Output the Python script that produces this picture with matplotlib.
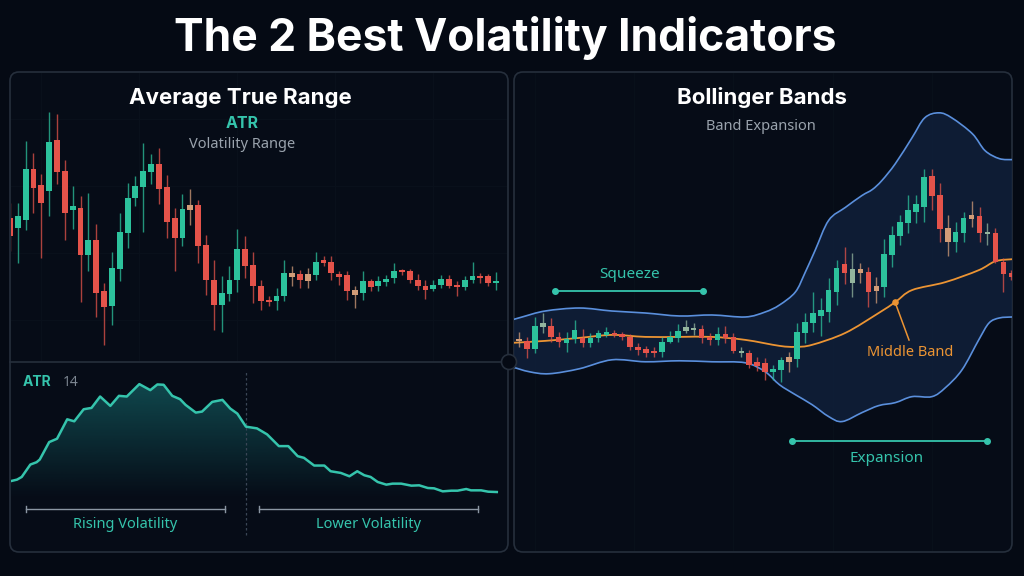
import numpy as np
import matplotlib.pyplot as plt
from matplotlib.patches import FancyBboxPatch, Circle, PathPatch
from matplotlib.path import Path

# ---------------- data ----------------
# left panel: price candles (arbitrary price units)
left_open = [45.5, 42.5, 44.8, 60.2, 55.3, 53.5, 68.8, 59.5, 47.7, 48.5,
             34.5, 38.8, 23.5, 19.0, 30.2, 41.0, 51.5, 54.8, 59.2, 61.5,
             54.8, 45.5, 39.5, 47.7, 49.2, 37.5, 27.0, 19.5, 22.8, 26.8,
             36.2, 31.5, 25.0, 21.0, 20.5, 22.2, 27.8, 28.8, 26.5, 28.5,
             32.8, 32.3, 28.8, 28.5, 22.4, 23.0, 26.5, 25.0, 26.4, 27.5,
             29.8, 29.5, 27.0, 25.2, 24.2, 25.5, 27.2, 25.5, 24.8, 26.8,
             28.2, 28.0, 26.0]
left_close = [40.0, 46.0, 60.2, 54.3, 50.0, 68.3, 59.2, 47.0, 49.0, 34.5,
              39.0, 23.0, 18.8, 30.5, 41.3, 51.5, 55.0, 59.5, 61.5, 54.0,
              44.2, 39.5, 48.2, 49.2, 37.0, 27.0, 19.5, 23.0, 27.0, 36.2,
              31.2, 25.0, 20.5, 20.2, 22.2, 29.0, 29.0, 27.0, 28.8, 32.3,
              32.0, 29.0, 27.8, 23.5, 23.8, 26.5, 24.8, 26.5, 27.3, 29.5,
              29.2, 27.0, 25.2, 24.0, 25.5, 27.2, 25.2, 24.8, 27.0, 28.2,
              27.4, 26.0, 26.2]
left_high = [50.0, 50.0, 68.5, 64.8, 58.5, 77.2, 76.5, 62.8, 55.0, 52.0,
             53.0, 43.8, 26.0, 35.2, 47.0, 56.0, 58.0, 68.0, 64.5, 66.5,
             58.2, 48.5, 52.5, 54.0, 50.8, 40.5, 33.0, 28.0, 31.0, 42.2,
             40.0, 35.2, 27.0, 22.0, 24.5, 33.0, 31.0, 30.0, 30.5, 35.2,
             34.0, 34.0, 29.5, 29.5, 25.0, 29.5, 27.2, 28.0, 28.5, 32.0,
             30.2, 30.2, 28.8, 27.0, 27.0, 28.5, 28.5, 26.5, 28.0, 32.2,
             29.0, 28.8, 29.2]
left_low = [35.5, 32.0, 42.0, 47.0, 33.5, 46.0, 55.5, 39.0, 42.2, 20.2,
            29.5, 16.0, 7.5, 13.5, 26.5, 36.5, 49.0, 41.2, 55.5, 49.5,
            39.5, 29.5, 37.0, 43.5, 32.0, 22.5, 12.0, 11.5, 20.5, 23.2,
            27.5, 20.0, 18.0, 19.0, 18.0, 20.5, 25.0, 24.5, 24.5, 27.0,
            31.0, 27.0, 25.5, 21.0, 18.5, 21.0, 23.5, 23.5, 25.2, 26.0,
            28.5, 26.0, 24.0, 21.2, 23.5, 24.5, 24.5, 22.0, 24.0, 26.0,
            26.0, 25.0, 24.0]
left_kind = "rggrrgrrgrgrrgggggg" + "rrrgtrrrgggrrrrggtrt" + "grrrrtgrgggrrrrggrrggrrg"

# ATR(14) line, x in bars
atr_x = [0, 0.9, 1.5, 2.6, 3.4, 3.8, 5.0, 6.0, 7.3, 8.2, 9.4, 10.4, 11.5,
         12.8, 13.9, 14.9, 16.5, 17.9, 18.8, 19.6, 20.7, 21.7, 22.4, 23.7,
         24.5, 25.8, 27.1, 28.1, 29.0, 30.1, 31.5, 32.8, 34.3, 35.5, 36.7,
         37.5, 38.8, 40.1, 40.9, 42.2, 43.3, 44.3, 45.2, 46.0, 46.9, 48.0,
         48.8, 49.9, 51.2, 52.2, 53.3, 54.1, 55.2, 56.3, 57.1, 58.2, 58.8,
         60.1, 61.0, 62.1]
atr_val = [0.95, 1.00, 1.08, 1.45, 1.52, 1.60, 2.12, 2.22, 2.80, 2.74, 3.10,
           3.14, 3.48, 3.20, 3.50, 3.48, 3.85, 3.67, 3.84, 3.83, 3.50, 3.40,
           3.23, 3.00, 3.03, 3.32, 3.38, 3.12, 2.97, 2.58, 2.53, 2.35, 2.00,
           2.00, 1.70, 1.65, 1.42, 1.42, 1.25, 1.20, 1.10, 1.25, 1.13, 1.08,
           0.93, 0.85, 0.88, 0.88, 0.82, 0.83, 0.75, 0.74, 0.65, 0.67, 0.67,
           0.72, 0.68, 0.68, 0.64, 0.63]
atr_split = 30.1

# right panel: Bollinger candles
bb_open = [59, 59, 51, 73, 74, 63, 57, 61, 62, 57,
           62, 65, 67, 66, 63, 53, 51, 49, 48, 58,
           62, 69, 70, 71, 63, 60, 66, 63, 47, 47,
           38, 37, 28, 30, 38, 41, 67, 77, 84, 88,
           108, 136, 117, 127, 128, 109, 113, 145, 164, 177,
           188, 193, 225, 205, 158, 158, 167, 181, 184, 166,
           167, 138, 127]
bb_close = [61, 51, 74, 77, 63, 58, 61, 70, 57, 62,
            67, 68, 65, 63, 53, 50, 47, 47, 58, 63,
            69, 73, 72, 62, 60, 66, 62, 49, 49, 35,
            34, 28, 31, 40, 43, 68, 78, 87, 90, 110,
            132, 127, 131, 131, 108, 114, 146, 165, 178, 190,
            196, 224, 204, 171, 172, 168, 182, 185, 167, 168,
            138, 126, 123]
bb_high = [68, 63, 83, 87, 82, 68, 68, 80, 71, 67,
           70, 73, 70, 68, 66, 57, 54, 53, 63, 69,
           76, 80, 77, 75, 67, 73, 74, 67, 53, 50,
           43, 42, 35, 43, 48, 77, 87, 108, 102, 122,
           140, 153, 147, 137, 133, 123, 161, 174, 185, 205,
           205, 232, 232, 218, 185, 178, 188, 199, 193, 177,
           172, 142, 130]
bb_low = [53, 42, 47, 67, 58, 53, 48, 57, 53, 53,
          58, 63, 63, 60, 50, 45, 43, 43, 43, 57,
          58, 67, 65, 57, 55, 55, 57, 47, 43, 32,
          29, 20, 20, 18, 28, 33, 57, 68, 64, 78,
          95, 116, 103, 117, 93, 97, 103, 133, 155, 167,
          177, 178, 190, 158, 144, 148, 158, 173, 158, 155,
          137, 108, 120]
bb_kind = "trgmrrggrgggrrrrrrgg" + "gmmrrgrrmrrrggtggggg" + "grmtrtggggggrrtggtrmrrr"

upper_x = [-0.9, 0.4, 3.3, 7.6, 11.7, 15.9, 20.2, 24.3, 28.5, 31.0, 32.8, 34.8,
           36.0, 37.3, 39.0, 41.1, 43.2, 44.5, 45.7, 47.4, 49.5, 51.1, 52.9,
           54.5, 57.1, 58.7, 60.5, 62.1]
upper_y = [80, 83, 89, 92, 89, 87, 84, 85, 83, 88, 95, 108,
           127, 150, 180, 193, 205, 211, 220, 237, 263, 283, 288,
           283, 267, 250, 242, 241]
lower_x = [-0.9, 1.3, 3.8, 7.6, 11.7, 15.9, 20.2, 24.3, 28.5, 31.0, 32.8, 34.8,
           36.9, 39.0, 40.7, 43.2, 45.3, 47.4, 49.5, 52.0, 53.7, 55.8, 57.9,
           59.2, 60.5, 62.1]
lower_y = [33, 28, 26, 31, 40, 38, 39, 38, 37, 28, 15, 5,
           -5, -17, -22, -13, -6, -3, 3, 3, 12, 30, 60,
           77, 82, 83]
middle_x = [-0.9, 3.3, 7.6, 11.7, 15.9, 20.2, 24.3, 28.5, 32.8, 34.8, 36.9,
            41.1, 45.3, 47.4, 49.5, 53.7, 57.9, 60.0, 62.1]
middle_y = [57, 59, 62, 65, 63, 63, 63, 60, 54, 53, 55,
            67, 87, 98, 110, 118, 130, 139, 141]

# ---------------- style ----------------
BG = "#050a14"
EDGE = "#262f3c"
GREEN = "#2cc29c"
RED = "#e4534a"
TAN = "#d29c78"
MUTED = "#93b49d"
TEAL = "#35c4ac"
GREY = "#9aa3ad"
ORANGE = "#ec9433"
BLUE = "#5a8fdc"
kind_color = {"g": GREEN, "r": RED, "t": TAN, "m": MUTED}

fig = plt.figure(figsize=(10.24, 5.76), dpi=100, facecolor=BG)
W, H = 1024, 576


def px_axes(x0, y0, x1, y1, z=2):
    ax = fig.add_axes([x0 / W, 1 - y1 / H, (x1 - x0) / W, (y1 - y0) / H], zorder=z)
    ax.set_facecolor("none")
    for s in ax.spines.values():
        s.set_visible(False)
    ax.set_xticks([])
    ax.set_yticks([])
    return ax


def candles(ax, o, h, l, c, kinds, width, min_body):
    o, h, l, c = map(np.asarray, (o, h, l, c))
    idx = np.arange(len(o))
    cols = [kind_color[k] for k in kinds]
    ax.vlines(idx, l, h, colors=cols, lw=1.0, alpha=0.75, zorder=3)
    body = np.maximum(np.abs(c - o), min_body)
    ax.bar(idx, body, width, bottom=np.minimum(o, c), color=cols, zorder=4, linewidth=0)


def smooth(ax, xs, ys, **kw):
    # rounded (Catmull-Rom style) path through the read points
    p = np.column_stack([xs, ys]).astype(float)
    verts = [p[0]]
    codes = [Path.MOVETO]
    for i in range(len(p) - 1):
        p0 = p[i - 1] if i > 0 else p[i]
        p3 = p[i + 2] if i + 2 < len(p) else p[i + 1]
        verts += [p[i] + (p[i + 1] - p0) / 6, p[i + 1] - (p3 - p[i]) / 6, p[i + 1]]
        codes += [Path.CURVE4] * 3
    ax.add_patch(PathPatch(Path(verts, codes), fill=False, **kw))


# background / panel frames in pixel coordinates
bg = fig.add_axes([0, 0, 1, 1], zorder=0)
bg.set_xlim(0, W)
bg.set_ylim(H, 0)
bg.axis("off")
for x0, x1 in [(10, 508), (514, 1012)]:
    bg.add_patch(FancyBboxPatch((x0, 72), x1 - x0, 480,
                                boxstyle="round,pad=0,rounding_size=9",
                                fc="#060c17", ec=EDGE, lw=1.2))
bg.plot([10, 508], [362, 362], color=EDGE, lw=1.2)

# ---- left: candles ----
axL = px_axes(11, 73, 507, 361)
axL.set_xlim(0.13, 63.4)
axL.set_ylim(2.7, 88.8)
axL.set_axisbelow(True)
axL.grid(True, color="#09101b", lw=0.8)
axL.set_xticks(np.arange(4, 63, 12.5))
axL.set_yticks([15, 35, 55, 75])
axL.tick_params(length=0, labelbottom=False, labelleft=False)
candles(axL, left_open, left_high, left_low, left_close, left_kind, 0.75, 0.6)

# ---- left: ATR ----
axA = px_axes(11, 363, 507, 551)
poly = axA.fill_between(atr_x, atr_val, -1.13, color="none", lw=0)
grad = np.zeros((256, 1, 4))
grad[..., :3] = plt.matplotlib.colors.to_rgb("#1fa3a0")
grad[..., 3] = np.clip(np.linspace(0.40, -0.05, 256), 0, 1)[:, None]
im = axA.imshow(grad, extent=[0, 63, 0.0, 3.9], origin="upper", aspect="auto", zorder=1)
im.set_clip_path(poly.get_paths()[0], transform=axA.transData)
axA.plot(atr_x, atr_val, color=TEAL, lw=1.8, zorder=3, solid_joinstyle="round")
axA.vlines(atr_split, -0.65, 4.2, colors="#3a4656", lw=0.9, linestyles=(0, (2, 2)))
axA.set_xlim(0.13, 63.4)
axA.set_ylim(-1.13, 4.48)

# ---- right: Bollinger ----
axB = px_axes(514, 73, 1012, 551)
axB.set_xlim(-0.63, 62.09)
axB.set_ylim(-152, 328)
axB.set_axisbelow(True)
axB.grid(True, axis="x", color="#08101a", lw=0.8)
axB.set_xticks(np.arange(2, 63, 12.5))
axB.tick_params(length=0, labelbottom=False, labelleft=False)
axB.fill(np.r_[upper_x, lower_x[::-1]], np.r_[upper_y, lower_y[::-1]],
         color="#10203a", alpha=0.85, lw=0, zorder=1)
smooth(axB, upper_x, upper_y, color=BLUE, lw=1.2, zorder=2)
smooth(axB, lower_x, lower_y, color=BLUE, lw=1.2, zorder=2)
smooth(axB, middle_x, middle_y, color=ORANGE, lw=1.3, zorder=2.5)
candles(axB, bb_open, bb_high, bb_low, bb_close, bb_kind, 0.7, 2)

# ---- overlay: titles, labels, annotations (pixel coordinates) ----
ov = px_axes(0, 0, W, H, z=6)
ov.set_xlim(0, W)
ov.set_ylim(H, 0)

ov.text(505, 38, "The 2 Best Volatility Indicators", color="white", fontsize=32,
        fontweight="bold", family="Inter", ha="center", va="center")
ov.text(240, 98, "Average True Range", color="white", fontsize=16,
        fontweight="bold", family="Inter", ha="center", va="center")
ov.text(242, 123, "ATR", color=TEAL, fontsize=11.5, fontweight="bold",
        family="Inter", ha="center", va="center")
ov.text(242, 144, "Volatility Range", color=GREY, fontsize=10.5,
        family="Noto Sans", ha="center", va="center")
ov.text(762, 98, "Bollinger Bands", color="white", fontsize=16,
        fontweight="bold", family="Inter", ha="center", va="center")
ov.text(761, 126, "Band Expansion", color=GREY, fontsize=10.5,
        family="Noto Sans", ha="center", va="center")

ov.text(23, 382, "ATR", color=TEAL, fontsize=10, fontweight="bold",
        family="Inter", va="center")
ov.text(63, 382, "14", color="#7d8792", fontsize=10, family="Noto Sans", va="center")
for x0, x1, label in [(26, 225, "Rising Volatility"), (259, 478, "Lower Volatility")]:
    ov.plot([x0, x1], [509, 509], color="#8b96a3", lw=1)
    ov.plot([x0, x0], [506, 512], color="#8b96a3", lw=1)
    ov.plot([x1, x1], [506, 512], color="#8b96a3", lw=1)
    ov.text((x0 + x1) / 2, 525, label, color=TEAL, fontsize=10.5,
            family="Noto Sans", ha="center", va="center")

ov.plot([555, 703], [291, 291], color=TEAL, lw=1.3)
ov.scatter([555, 703], [291, 291], s=16, color=TEAL)
ov.text(630, 275, "Squeeze", color=TEAL, fontsize=11, family="Noto Sans",
        ha="center", va="center")
ov.plot([792, 987], [441, 441], color=TEAL, lw=1.3)
ov.scatter([792, 987], [441, 441], s=16, color=TEAL)
ov.text(887, 459, "Expansion", color=TEAL, fontsize=11, family="Noto Sans",
        ha="center", va="center")

ov.add_patch(Circle((509, 362), 7.5, fc=BG, ec=EDGE, lw=1.2))
ov.plot([895, 909], [302, 340], color=ORANGE, lw=1.1)
ov.scatter([895], [302], s=14, color=ORANGE)
ov.text(910, 352, "Middle Band", color=ORANGE, fontsize=10.5, family="Noto Sans",
        ha="center", va="center")

fig.savefig("out.png", dpi=100, facecolor=BG)
